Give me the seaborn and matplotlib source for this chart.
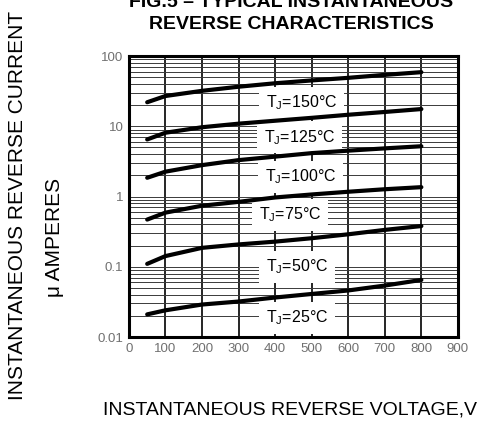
import pandas as pd
import matplotlib
matplotlib.use('Agg')
import matplotlib.pyplot as plt
import seaborn as sns

# Reverse voltage sample points (V)
voltage = [50, 100, 200, 300, 400, 500, 600, 700, 800]

# Reverse current (uA), one list per junction temperature
i_150 = [22, 27, 32, 36.6, 41, 45, 49, 54, 59]
i_125 = [6.5, 8.1, 9.7, 10.9, 12, 13.2, 14.6, 16, 17.6]
i_100 = [1.85, 2.26, 2.8, 3.3, 3.7, 4.15, 4.5, 4.85, 5.2]
i_75 = [0.47, 0.59, 0.74, 0.84, 0.97, 1.07, 1.17, 1.27, 1.36]
i_50 = [0.11, 0.142, 0.186, 0.208, 0.228, 0.255, 0.29, 0.335, 0.38]
i_25 = [0.021, 0.024, 0.029, 0.032, 0.0365, 0.041, 0.046, 0.054, 0.065]

temps = [150, 125, 100, 75, 50, 25]
currents = [i_150, i_125, i_100, i_75, i_50, i_25]

# label anchor points (V, uA)
label_x = [473, 467, 470, 440, 460, 460]
label_y = [21.5, 7.0, 1.9, 0.55, 0.10, 0.0186]

y_ticks = [0.01, 0.1, 1, 10, 100]
y_ticklabels = ['0.01', '0.1', '1', '10', '100']
x_ticks = [0, 100, 200, 300, 400, 500, 600, 700, 800, 900]

rows = []
for t, cur in zip(temps, currents):
    for v, c in zip(voltage, cur):
        rows.append({'V': v, 'I': c, 'Tj': t})
df = pd.DataFrame(rows)

sns.set_style('white')
plt.rcParams['font.family'] = ['Liberation Sans', 'DejaVu Sans']
plt.rcParams['text.color'] = 'black'
plt.rcParams['mathtext.fontset'] = 'custom'
plt.rcParams['mathtext.rm'] = 'Liberation Sans'
plt.rcParams['mathtext.it'] = 'Liberation Sans'

fig = plt.figure(figsize=(4.81, 4.28), dpi=100)
ax = fig.add_axes([0.268, 0.2126, 0.684, 0.6564])

sns.lineplot(data=df, x='V', y='I', hue='Tj', palette=['black'] * 6,
             legend=False, linewidth=3, ax=ax, zorder=4)

ax.set_yscale('log')
ax.set_xlim(0, 900)
ax.set_ylim(0.01, 100)
ax.set_xticks(x_ticks)
ax.set_yticks(y_ticks)
ax.set_yticklabels(y_ticklabels)
ax.set_xlabel('')
ax.set_ylabel('')
ax.tick_params(axis='both', which='both', length=0, labelsize=9.5, labelcolor='#707070', pad=4)

ax.grid(which='major', axis='x', color='black', linewidth=1.2)
ax.grid(which='both', axis='y', color='#3a3a3a', linewidth=0.7)
ax.set_axisbelow(True)
for s in ax.spines.values():
    s.set_visible(True)
    s.set_color('black')
    s.set_linewidth(2.2)

for t, lx, ly in zip(temps, label_x, label_y):
    ax.text(lx, ly, r'T$_\mathrm{J}$=' + f'{t}°C', ha='center', va='center',
            fontsize=11.5, zorder=3,
            bbox=dict(facecolor='white', edgecolor='none', pad=5))

# first title line is cut by the top edge, as in the original figure
fig.text(0.605, 0.993, 'FIG.5 – TYPICAL INSTANTANEOUS', ha='center', va='center',
         fontsize=14, fontweight='bold')
fig.text(0.605, 0.9416, 'REVERSE CHARACTERISTICS', ha='center', va='center',
         fontsize=14, fontweight='bold')
fig.text(0.037, 0.521, 'INSTANTANEOUS REVERSE CURRENT', rotation=90,
         ha='center', va='center', fontsize=15)
fig.text(0.114, 0.446, 'μ AMPERES', rotation=90, ha='center', va='center', fontsize=15)
fig.text(0.603, 0.042, 'INSTANTANEOUS REVERSE VOLTAGE,V', ha='center', va='center',
         fontsize=14)

fig.savefig('out.png', dpi=100)
